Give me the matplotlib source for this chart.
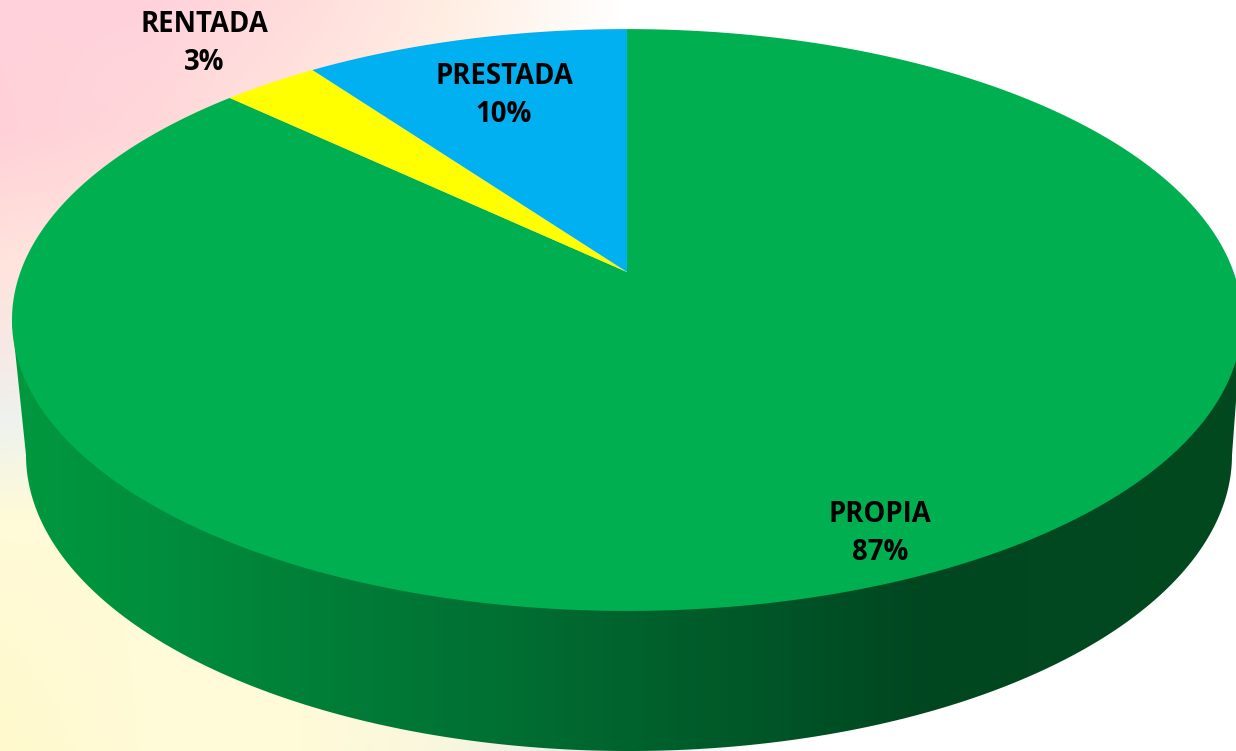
import numpy as np
import matplotlib
matplotlib.use("Agg")
import matplotlib.pyplot as plt
from matplotlib.colors import LinearSegmentedColormap
from matplotlib.patches import Polygon

# Data, clockwise from 12 o'clock
labels = ["PROPIA", "RENTADA", "PRESTADA"]
values = [87, 3, 10]
colors = ["#00B050", "#FFFF00", "#00B0F0"]

# label centres in pixels (name line, value line)
label_x = [880, 204, 504]
name_y = [515, 25, 77]
value_y = [553, 62, 114]

W, H = 1236, 751

fig = plt.figure(figsize=(W / 100, H / 100), dpi=100)
ax = fig.add_axes([0, 0, 1, 1])
ax.set_xlim(0, W)
ax.set_ylim(H, 0)
ax.axis("off")

# soft background wash
bg_x = [0, 150, 300, 450, 620, 760, 1236]
bg_y = [0, 130, 260, 340, 420, 520, 751]
bg_rgb = [
    ["#ffd2dc", "#ffd2dc", "#ffdcdc", "#ffeee2", "#ffffff", "#ffffff", "#ffffff"],
    ["#ffd0d8", "#ffd8da", "#ffe6de", "#fff0e6", "#ffffff", "#ffffff", "#ffffff"],
    ["#ffe4dc", "#ffe6de", "#fff0e6", "#fff8f0", "#ffffff", "#ffffff", "#ffffff"],
    ["#f8e8e4", "#f4ece8", "#f8f4f0", "#fcfaf8", "#ffffff", "#ffffff", "#ffffff"],
    ["#eef2ee", "#f2f4ee", "#f8f8f0", "#fcfaf4", "#ffffff", "#ffffff", "#ffffff"],
    ["#fffbd8", "#fffbd8", "#fffbdc", "#fdfbe4", "#f8f8f0", "#ffffff", "#ffffff"],
    ["#fff9cc", "#fffbd8", "#fffbd8", "#f8f6de", "#e4ecec", "#ffffff", "#ffffff"],
]
bg_arr = np.array([[matplotlib.colors.to_rgb(c) for c in row] for row in bg_rgb])
px = np.arange(W)
py = np.arange(H)
bg = np.zeros((H, W, 3))
for ch in range(3):
    rows = np.array([np.interp(px, bg_x, bg_arr[r, :, ch]) for r in range(len(bg_y))])
    for col in range(W):
        bg[:, col, ch] = np.interp(py, bg_y, rows[:, col])
ax.imshow(bg, extent=(0, W, H, 0), aspect="auto", zorder=0)


# tilted disc: unit circle seen in perspective, apex at (627, 272)
def project(theta):
    d = 1 + 0.165 * np.cos(theta)
    return 627 + 606.6 * np.sin(theta) / d, 272 - 283 * np.cos(theta) / d


# side wall, shaded from left to right
t = np.linspace(np.pi, 0, 300)
low_x = 629 + 603 * np.cos(t)
low_y = 455 + 296 * np.sin(t)
top_x, top_y = project(np.linspace(0, 2 * np.pi, 720))
i_l, i_r = np.argmin(top_x), np.argmax(top_x)
wall = np.column_stack([
    np.r_[top_x[i_l], low_x, top_x[i_r]],
    np.r_[top_y[i_l], low_y, top_y[i_r]],
])
side_cmap = LinearSegmentedColormap.from_list("side", [
    (0.0, "#00993f"), (0.12, "#008f3d"), (0.25, "#007f38"), (0.40, "#007033"),
    (0.53, "#00602c"), (0.65, "#005226"), (0.75, "#004620"), (1.0, "#03491f"),
])
shade = ax.imshow(np.linspace(0, 1, 512)[None, :], cmap=side_cmap, extent=(0, W, H, 0),
                  aspect="auto", zorder=1)
clip = Polygon(wall, closed=True, transform=ax.transData, fc="none", ec="none")
ax.add_patch(clip)
shade.set_clip_path(clip)

# top face slices
edges = np.r_[0, np.cumsum(values)] / np.sum(values) * 2 * np.pi
for i in range(len(values)):
    th = np.linspace(edges[i], edges[i + 1], 400)
    xs, ys = project(th)
    ax.fill(np.r_[627, xs], np.r_[272, ys], color=colors[i], lw=0, zorder=2)

for i in range(len(labels)):
    ax.text(label_x[i], name_y[i], labels[i], family="Open Sans", weight="bold", fontsize=19.8,
            ha="center", va="center", color="black", zorder=3)
    ax.text(label_x[i], value_y[i], f"{values[i]}%", family="Open Sans", weight="bold", fontsize=19.8,
            ha="center", va="center", color="black", zorder=3)

ax.set_xlim(0, W)
ax.set_ylim(H, 0)
fig.savefig("out.png", dpi=100)
